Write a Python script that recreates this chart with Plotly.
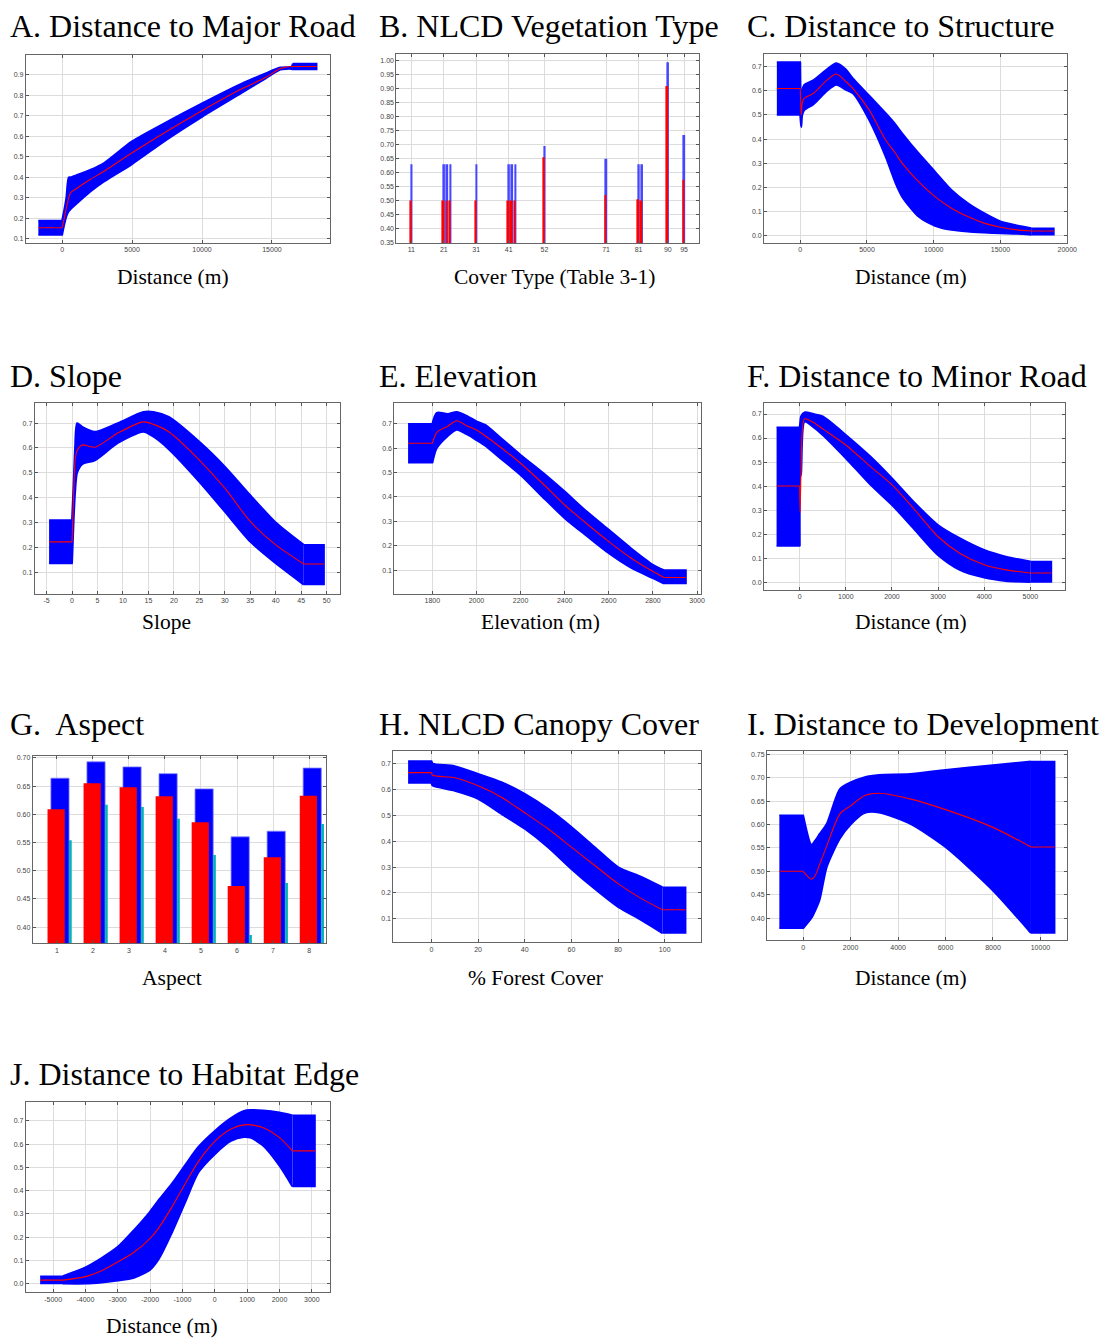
import plotly.graph_objects as go

W, H = 1107, 1340

# ---------------- data ----------------
# A. Distance to Major Road
A_x = [-1700, 0, 150, 300, 470, 600, 1000, 2000, 3000, 5000, 7500, 10000, 12800, 14500, 15600, 16400, 16500, 18200]
A_hi = [0.19, 0.19, 0.24, 0.30, 0.40, 0.40, 0.41, 0.436, 0.47, 0.575, 0.67, 0.76, 0.855, 0.905, 0.935, 0.94, 0.955, 0.955]
A_lo = [0.12, 0.12, 0.17, 0.21, 0.235, 0.245, 0.27, 0.33, 0.38, 0.465, 0.585, 0.695, 0.81, 0.88, 0.925, 0.928, 0.925, 0.925]
A_med = [0.155, 0.155, 0.20, 0.25, 0.30, 0.325, 0.345, 0.39, 0.43, 0.52, 0.625, 0.725, 0.83, 0.885, 0.93, 0.94, 0.94, 0.94]

# B. NLCD Vegetation Type
B_codes = [11, 21, 22, 23, 31, 41, 42, 43, 52, 71, 81, 82, 90, 95]
B_hi = [0.63, 0.63, 0.63, 0.63, 0.63, 0.63, 0.63, 0.63, 0.695, 0.65, 0.63, 0.63, 0.995, 0.735]
B_med = [0.50, 0.50, 0.50, 0.50, 0.50, 0.50, 0.50, 0.50, 0.655, 0.52, 0.505, 0.50, 0.91, 0.575]

# C. Distance to Structure
C_x = [-1750, 0, 40, 80, 150, 300, 1000, 2000, 2700, 3400, 3943, 5170, 6400, 7140, 7630, 8860, 10090, 11320, 12540, 13770, 15000, 16230, 17300, 19000]
C_hi = [0.72, 0.72, 0.55, 0.50, 0.60, 0.625, 0.645, 0.69, 0.715, 0.69, 0.652, 0.58, 0.507, 0.46, 0.424, 0.341, 0.265, 0.189, 0.134, 0.092, 0.058, 0.041, 0.03, 0.03]
C_lo = [0.50, 0.50, 0.47, 0.45, 0.50, 0.52, 0.545, 0.60, 0.625, 0.605, 0.59, 0.479, 0.327, 0.217, 0.161, 0.078, 0.04, 0.023, 0.016, 0.012, 0.009, 0.007, 0.003, 0.003]
C_med = [0.61, 0.61, 0.55, 0.50, 0.55, 0.57, 0.59, 0.645, 0.67, 0.64, 0.61, 0.52, 0.396, 0.34, 0.30, 0.223, 0.161, 0.113, 0.078, 0.051, 0.034, 0.023, 0.018, 0.018]

# D. Slope
D_x = [-4.5, 0, 0.3, 0.6, 1, 2, 4.5, 9, 14, 16, 19, 25, 30, 35, 40, 45.5, 49.5]
D_hi = [0.31, 0.31, 0.45, 0.60, 0.70, 0.685, 0.665, 0.70, 0.745, 0.745, 0.725, 0.625, 0.525, 0.41, 0.30, 0.21, 0.21]
D_lo = [0.135, 0.135, 0.30, 0.42, 0.50, 0.535, 0.55, 0.62, 0.665, 0.645, 0.595, 0.464, 0.344, 0.223, 0.136, 0.05, 0.05]
D_med = [0.222, 0.222, 0.40, 0.55, 0.59, 0.612, 0.603, 0.66, 0.705, 0.695, 0.665, 0.551, 0.438, 0.304, 0.21, 0.133, 0.133]

# E. Elevation
E_x = [1690, 1800, 1820, 1870, 1910, 1960, 2000, 2040, 2100, 2200, 2300, 2400, 2500, 2600, 2700, 2800, 2850, 2950]
E_hi = [0.70, 0.70, 0.745, 0.74, 0.748, 0.73, 0.71, 0.695, 0.65, 0.572, 0.50, 0.422, 0.34, 0.265, 0.19, 0.122, 0.10, 0.10]
E_lo = [0.54, 0.54, 0.60, 0.65, 0.675, 0.655, 0.633, 0.61, 0.565, 0.49, 0.40, 0.313, 0.24, 0.169, 0.11, 0.067, 0.045, 0.045]
E_med = [0.62, 0.62, 0.665, 0.69, 0.712, 0.69, 0.674, 0.65, 0.61, 0.538, 0.455, 0.367, 0.29, 0.217, 0.15, 0.094, 0.07, 0.07]

# F. Distance to Minor Road
F_x = [-500, 0, 10, 30, 107, 300, 501, 1001, 1538, 2003, 2468, 2997, 3469, 3999, 4471, 5000, 5458]
F_hi = [0.645, 0.645, 0.66, 0.69, 0.707, 0.70, 0.69, 0.613, 0.522, 0.432, 0.335, 0.238, 0.183, 0.134, 0.106, 0.086, 0.086]
F_lo = [0.15, 0.15, 0.44, 0.45, 0.668, 0.645, 0.613, 0.516, 0.405, 0.321, 0.224, 0.113, 0.051, 0.019, 0.005, 0.0, 0.0]
F_med = [0.40, 0.40, 0.29, 0.45, 0.68, 0.665, 0.638, 0.571, 0.481, 0.405, 0.307, 0.19, 0.12, 0.072, 0.051, 0.038, 0.038]

# G. Aspect
G_cats = [1, 2, 3, 4, 5, 6, 7, 8]
G_hi = [0.664, 0.693, 0.684, 0.672, 0.645, 0.560, 0.570, 0.682]
G_med = [0.609, 0.655, 0.648, 0.632, 0.586, 0.473, 0.524, 0.633]
G_lo = [0.554, 0.617, 0.613, 0.592, 0.528, 0.386, 0.478, 0.583]

# H. NLCD Canopy Cover
H_x = [-10, 0, 0.5, 10, 20, 30, 40, 50, 60, 70, 80, 90, 99, 109]
H_hi = [0.71, 0.71, 0.70, 0.69, 0.66, 0.628, 0.583, 0.525, 0.455, 0.377, 0.30, 0.262, 0.222, 0.222]
H_lo = [0.625, 0.625, 0.615, 0.595, 0.564, 0.506, 0.448, 0.377, 0.293, 0.216, 0.146, 0.095, 0.045, 0.045]
H_med = [0.665, 0.665, 0.655, 0.645, 0.614, 0.57, 0.51, 0.448, 0.377, 0.306, 0.236, 0.178, 0.135, 0.135]

# I. Distance to Development
I_x = [-1000, 0, 350, 500, 700, 1000, 1550, 2000, 2600, 3200, 4500, 6000, 8000, 9600, 10600]
I_hi = [0.62, 0.62, 0.557, 0.565, 0.58, 0.602, 0.676, 0.69, 0.7015, 0.706, 0.708, 0.717, 0.727, 0.735, 0.735]
I_lo = [0.378, 0.378, 0.40, 0.415, 0.44, 0.51, 0.57, 0.60, 0.625, 0.626, 0.602, 0.552, 0.459, 0.368, 0.368]
I_med = [0.50, 0.50, 0.483, 0.49, 0.515, 0.555, 0.623, 0.64, 0.662, 0.667, 0.655, 0.632, 0.594, 0.552, 0.552]

# J. Distance to Habitat Edge
J_x = [-5400, -4700, -4000, -3500, -3000, -2500, -2000, -1732, -1325, -917, -509, 0, 500, 900, 1100, 1500, 2000, 2400, 3100]
J_hi = [0.032, 0.032, 0.07, 0.11, 0.158, 0.23, 0.31, 0.36, 0.43, 0.51, 0.588, 0.657, 0.712, 0.743, 0.747, 0.745, 0.736, 0.724, 0.724]
J_lo = [0.0, 0.0, 0.0, 0.005, 0.013, 0.025, 0.06, 0.106, 0.22, 0.35, 0.478, 0.557, 0.614, 0.631, 0.628, 0.593, 0.507, 0.418, 0.418]
J_med = [0.015, 0.015, 0.03, 0.055, 0.093, 0.135, 0.195, 0.24, 0.33, 0.43, 0.525, 0.612, 0.665, 0.683, 0.683, 0.671, 0.628, 0.571, 0.571]

# ---------------- layout of panels (pixel boxes) ----------------
panels = [
    dict(title="A. Distance to Major Road", tx=8, ty=24, xlab="Distance (m)", lx=175, ly=276, box=(26, 333, 53, 242),
         xr=[-2600, 19150], yr=[0.08, 0.997], xt=[0, 5000, 10000, 15000], yt=[0.1, 0.2, 0.3, 0.4, 0.5, 0.6, 0.7, 0.8, 0.9], yf="{:.1f}"),
    dict(title="B. NLCD Vegetation Type", tx=380, ty=24, xlab="Cover Type (Table 3-1)", lx=560, ly=276, box=(400, 705, 52, 242),
         xr=[6.4, 99.5], yr=[0.348, 1.025], xt=[11, 21, 31, 41, 52, 71, 81, 90, 95],
         yt=[0.35, 0.40, 0.45, 0.50, 0.55, 0.60, 0.65, 0.70, 0.75, 0.80, 0.85, 0.90, 0.95, 1.00], yf="{:.2f}"),
    dict(title="C. Distance to Structure", tx=752, ty=24, xlab="Distance (m)", lx=919, ly=276, box=(771, 1077, 52, 242),
         xr=[-2710, 20000], yr=[-0.032, 0.754], xt=[0, 5000, 10000, 15000, 20000], yt=[0.0, 0.1, 0.2, 0.3, 0.4, 0.5, 0.6, 0.7], yf="{:.1f}"),
    dict(title="D. Slope", tx=8, ty=375, xlab="Slope", lx=168, ly=622, box=(35, 343, 402, 594),
         xr=[-7.33, 52.6], yr=[0.013, 0.783], xt=[-5, 0, 5, 10, 15, 20, 25, 30, 35, 40, 45, 50], yt=[0.1, 0.2, 0.3, 0.4, 0.5, 0.6, 0.7], yf="{:.1f}"),
    dict(title="E. Elevation", tx=380, ty=375, xlab="Elevation (m)", lx=545, ly=622, box=(398, 707, 402, 594),
         xr=[1628, 3016], yr=[0.003, 0.787], xt=[1800, 2000, 2200, 2400, 2600, 2800, 3000], yt=[0.1, 0.2, 0.3, 0.4, 0.5, 0.6, 0.7], yf="{:.1f}"),
    dict(title="F. Distance to Minor Road", tx=752, ty=375, xlab="Distance (m)", lx=919, ly=622, box=(771, 1075, 402, 590),
         xr=[-772, 5758], yr=[-0.032, 0.748], xt=[0, 1000, 2000, 3000, 4000, 5000], yt=[0.0, 0.1, 0.2, 0.3, 0.4, 0.5, 0.6, 0.7], yf="{:.1f}"),
    dict(title="G.\u00a0 Aspect", tx=8, ty=725, xlab="Aspect", lx=174, ly=980, box=(33, 329, 757, 945),
         xr=[0.33, 8.47], yr=[0.371, 0.703], xt=[1, 2, 3, 4, 5, 6, 7, 8], yt=[0.40, 0.45, 0.50, 0.55, 0.60, 0.65, 0.70], yf="{:.2f}"),
    dict(title="H. NLCD Canopy Cover", tx=380, ty=725, xlab="% Forest Cover", lx=540, ly=980, box=(397, 707, 752, 944),
         xr=[-16.3, 115.4], yr=[0.0085, 0.748], xt=[0, 20, 40, 60, 80, 100], yt=[0.1, 0.2, 0.3, 0.4, 0.5, 0.6, 0.7], yf="{:.1f}"),
    dict(title="I. Distance to Development", tx=752, ty=725, xlab="Distance (m)", lx=919, ly=980, box=(774, 1077, 752, 942),
         xr=[-1520, 11130], yr=[0.352, 0.757], xt=[0, 2000, 4000, 6000, 8000, 10000], yt=[0.40, 0.45, 0.50, 0.55, 0.60, 0.65, 0.70, 0.75], yf="{:.2f}"),
    dict(title="J. Distance to Habitat Edge", tx=8, ty=1076, xlab="Distance (m)", lx=163, ly=1329, box=(26, 333, 1104, 1295),
         xr=[-5846, 3562], yr=[-0.037, 0.782], xt=[-5000, -4000, -3000, -2000, -1000, 0, 1000, 2000, 3000],
         yt=[0.0, 0.1, 0.2, 0.3, 0.4, 0.5, 0.6, 0.7], yf="{:.1f}"),
]

# band series per panel; the first two and last two points of each series are the flat end blocks
bands = {0: (A_x, A_hi, A_lo, A_med), 2: (C_x, C_hi, C_lo, C_med), 3: (D_x, D_hi, D_lo, D_med),
         4: (E_x, E_hi, E_lo, E_med), 5: (F_x, F_hi, F_lo, F_med), 7: (H_x, H_hi, H_lo, H_med),
         8: (I_x, I_hi, I_lo, I_med), 9: (J_x, J_hi, J_lo, J_med)}

BLUE = "#0000ff"
RED = "#ff0000"
CYAN = "#00b4b4"

fig = go.Figure()
layout = dict(width=W, height=H, margin=dict(l=0, r=0, t=0, b=0), paper_bgcolor="white",
              plot_bgcolor="white", showlegend=False, annotations=[])

tickfont = dict(family="Arial, Liberation Sans, sans-serif", size=7, color="#444444")
serif = "Liberation Serif, Times New Roman, serif"


def add_band(bx, bhi, blo, bmed, xa, ya):
    n = len(bx)
    # curved middle part: smoothed lower and upper edges, filled between
    sm = dict(color=BLUE, width=2, shape="spline", smoothing=0.7)
    fig.add_trace(go.Scatter(x=bx[1:n - 1], y=blo[1:n - 1], mode="lines", line=sm,
                             xaxis=xa, yaxis=ya, hoverinfo="skip"))
    fig.add_trace(go.Scatter(x=bx[1:n - 1], y=bhi[1:n - 1], mode="lines", fill="tonexty", fillcolor=BLUE,
                             line=sm, xaxis=xa, yaxis=ya, hoverinfo="skip"))
    # flat end blocks as closed polygons
    for a, b in [(0, 2), (n - 2, n)]:
        fig.add_trace(go.Scatter(x=bx[a:b] + bx[a:b][::-1], y=bhi[a:b] + blo[a:b][::-1], mode="lines",
                                 fill="toself", fillcolor=BLUE, line=dict(color=BLUE, width=1.5),
                                 xaxis=xa, yaxis=ya, hoverinfo="skip"))
    # median
    for a, b, shp in [(0, 2, "linear"), (1, n - 1, "spline"), (n - 2, n, "linear")]:
        ln = dict(color=RED, width=1.1, shape=shp)
        if shp == "spline":
            ln["smoothing"] = 0.7
        fig.add_trace(go.Scatter(x=bx[a:b], y=bmed[a:b], mode="lines", line=ln, xaxis=xa, yaxis=ya))


for i, p in enumerate(panels):
    n = i + 1
    sfx = "" if n == 1 else str(n)
    x0, x1, y0, y1 = p["box"]
    common = dict(showgrid=True, gridcolor="#dcdcdc", gridwidth=1, showline=True, linecolor="#666666",
                  linewidth=1, mirror="ticks", ticks="inside", ticklen=3, tickcolor="#555555",
                  zeroline=False, tickfont=tickfont, fixedrange=True)
    layout["xaxis" + sfx] = dict(common, domain=[x0 / W, x1 / W], range=p["xr"], anchor="y" + sfx,
                                 tickvals=p["xt"], ticktext=[str(v) for v in p["xt"]])
    layout["yaxis" + sfx] = dict(common, domain=[1 - y1 / H, 1 - y0 / H], range=p["yr"], anchor="x" + sfx,
                                 tickvals=p["yt"], ticktext=[p["yf"].format(v) for v in p["yt"]])
    layout["annotations"].append(dict(text=p["title"], x=p["tx"] / W, y=1 - p["ty"] / H, xref="paper", yref="paper",
                                      xanchor="left", yanchor="middle", showarrow=False,
                                      font=dict(family=serif, size=32, color="black")))
    layout["annotations"].append(dict(text=p["xlab"], x=p["lx"] / W, y=1 - p["ly"] / H, xref="paper",
                                      yref="paper", xanchor="center", yanchor="middle", showarrow=False,
                                      font=dict(family=serif, size=21.5, color="black")))

    xa, ya = "x" + sfx, "y" + sfx
    if i in bands:
        bx, bhi, blo, bmed = bands[i]
        add_band(bx, bhi, blo, bmed, xa, ya)
    elif i == 1:
        fig.add_trace(go.Bar(x=[c + 0.05 for c in B_codes], y=B_hi, width=0.6,
                             marker=dict(color="rgb(70,70,255)", line=dict(width=0)), xaxis=xa, yaxis=ya))
        fig.add_trace(go.Bar(x=[c - 0.2 for c in B_codes], y=B_med, width=0.6,
                             marker=dict(color=RED, line=dict(width=0)), xaxis=xa, yaxis=ya))
    elif i == 6:
        fig.add_trace(go.Bar(x=[c + 0.087 for c in G_cats], y=G_hi, width=0.504,
                             marker=dict(color=BLUE, line=dict(color="#8080ff", width=0.8)), xaxis=xa, yaxis=ya))
        fig.add_trace(go.Bar(x=[c - 0.02 for c in G_cats], y=G_med, width=0.477,
                             marker=dict(color=RED, line=dict(width=0)), xaxis=xa, yaxis=ya))
        fig.add_trace(go.Bar(x=[c + 0.376 for c in G_cats], y=G_lo, width=0.073,
                             marker=dict(color=CYAN, line=dict(width=0)), xaxis=xa, yaxis=ya))

layout["barmode"] = "overlay"
fig.update_layout(**layout)
fig.write_html("out.html")
